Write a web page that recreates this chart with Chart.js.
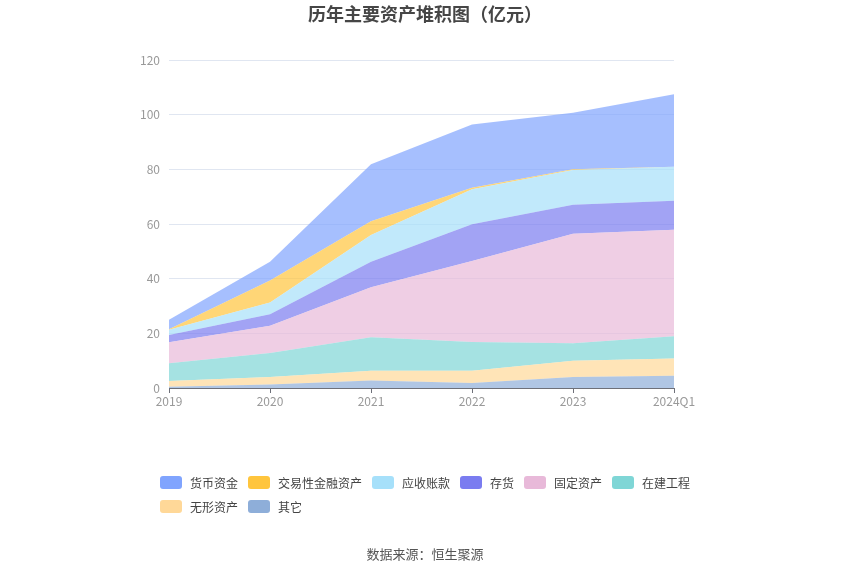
<!DOCTYPE html>
<html>
<head>
<meta charset="utf-8">
<script src="https://cdn.jsdelivr.net/npm/chart.js@4/dist/chart.umd.min.js"></script>
<style>
  html, body { margin: 0; padding: 0; background: #fff; }
  #wrap { position: relative; width: 850px; height: 575px; font-family: "Noto Sans CJK SC", "Noto Sans", sans-serif; }
  #c { position: absolute; left: 0; top: 0; }
  #title { position: absolute; left: 0; top: 1px; width: 850px; text-align: center; font-size: 18px; font-weight: bold; color: #464646; line-height: 24px; }
  #legend { position: absolute; left: 160px; top: 470px; width: 560px; display: flex; flex-wrap: wrap; }
  .item { display: flex; align-items: center; height: 24px; margin-right: 10px; font-size: 12px; color: #444; }
  .box { width: 22px; height: 13px; border-radius: 3px; margin-right: 8px; }
  #source { position: absolute; left: 0; top: 544px; width: 850px; text-align: center; font-size: 13px; color: #555; line-height: 20px; }
</style>
</head>
<body>
<div id="wrap">
  <canvas id="c" width="850" height="575"></canvas>
  <div id="title">历年主要资产堆积图（亿元）</div>
  <div id="legend"></div>
  <div id="source">数据来源：恒生聚源</div>
</div>
<script>
const categories = ["2019", "2020", "2021", "2022", "2023", "2024Q1"];
const yTicks = [0, 20, 40, 60, 80, 100, 120];

// series (bottom of stack first)
const qita     = [0.5, 1.3, 2.7, 1.8, 4.0, 4.5];   // 其它
const wuxing   = [2.1, 2.7, 3.6, 4.5, 6.0, 6.3];   // 无形资产
const zaijian  = [6.5, 8.8, 12.3, 10.5, 6.4, 8.1]; // 在建工程
const guding   = [7.6, 10.0, 18.3, 29.7, 40.0, 39.0]; // 固定资产
const cunhuo   = [2.7, 4.2, 9.3, 13.4, 10.6, 10.6]; // 存货
const yingshou = [1.9, 4.3, 9.8, 12.8, 12.8, 12.4]; // 应收账款
const jiaoyi   = [0.2, 8.0, 5.0, 0.6, 0.2, 0.0];   // 交易性金融资产
const huobi    = [3.5, 6.9, 20.9, 23.1, 20.7, 26.6]; // 货币资金

const seriesNames = ["其它", "无形资产", "在建工程", "固定资产", "存货", "应收账款", "交易性金融资产", "货币资金"];
const seriesData = [qita, wuxing, zaijian, guding, cunhuo, yingshou, jiaoyi, huobi];
const seriesColors = ["#8eaed9", "#ffd898", "#7fd6d6", "#e8b9d9", "#7a7cf0", "#a6e0fa", "#ffc53d", "#80a4fe"];

function alpha(hex, a) {
  const r = parseInt(hex.slice(1, 3), 16), g = parseInt(hex.slice(3, 5), 16), b = parseInt(hex.slice(5, 7), 16);
  return `rgba(${r},${g},${b},${a})`;
}

const datasets = seriesNames.map((name, i) => ({
  label: name,
  data: seriesData[i],
  backgroundColor: alpha(seriesColors[i], 0.7),
  borderColor: alpha(seriesColors[i], 0.7),
  borderWidth: 0,
  pointRadius: 0,
  pointHoverRadius: 0,
  tension: 0,
  fill: i === 0 ? 'origin' : '-1'
}));

const chart = new Chart(document.getElementById('c'), {
  type: 'line',
  data: { labels: categories, datasets },
  options: {
    responsive: false,
    animation: false,
    devicePixelRatio: 1,
    layout: { padding: { left: 0, right: 176, top: 60, bottom: 157 } },
    plugins: { legend: { display: false }, title: { display: false }, tooltip: { enabled: false } },
    scales: {
      x: {
        offset: false,
        grid: { display: true, drawOnChartArea: false, drawTicks: true, tickLength: 5, color: '#6e7079' },
        border: { display: true, color: '#6e7079' },
        ticks: { color: '#999', font: { size: 12, family: '"Noto Sans CJK SC", sans-serif' }, padding: 1, maxRotation: 0, autoSkip: false },
        afterFit: s => { s.height = 30; }
      },
      y: {
        stacked: true,
        min: 0, max: 120,
        afterBuildTicks: s => { s.ticks = yTicks.map(v => ({ value: v })); },
        grid: { color: '#e0e6f1', drawTicks: false },
        border: { display: false },
        ticks: { color: '#999', font: { size: 12, family: '"Noto Sans CJK SC", sans-serif' }, padding: 9 },
        afterFit: s => { s.width = 169; }
      }
    }
  }
});

// HTML legend built from the chart datasets (top series first)
const legend = document.getElementById('legend');
chart.data.datasets.slice().reverse().forEach((ds) => {
  const idx = seriesNames.indexOf(ds.label);
  const item = document.createElement('div');
  item.className = 'item';
  const box = document.createElement('div');
  box.className = 'box';
  box.style.background = seriesColors[idx];
  const txt = document.createElement('span');
  txt.textContent = ds.label;
  item.appendChild(box); item.appendChild(txt);
  legend.appendChild(item);
});
</script>
</body>
</html>
